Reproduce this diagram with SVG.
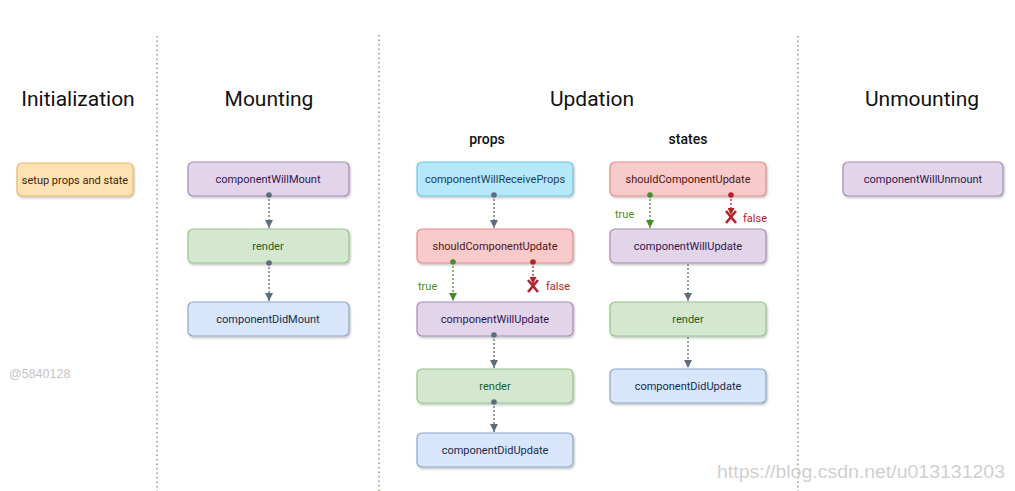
<svg xmlns="http://www.w3.org/2000/svg" width="1015" height="491" viewBox="0 0 1015 491">
<style>
.title{font-family:Roboto,"Liberation Sans",sans-serif;font-size:21px;fill:#111;text-anchor:middle}
.sub{font-family:Roboto,"Liberation Sans",sans-serif;font-size:14px;font-weight:500;fill:#111;text-anchor:middle}
.lbl{font-family:Roboto,"Liberation Sans",sans-serif;font-size:11px;text-anchor:middle;dominant-baseline:central}
.box{stroke-width:1.2;filter:url(#sh)}
.orange rect{fill:#fde2b3;stroke:#e8b865}.orange text{fill:#3a2608}
.purple rect{fill:#e2d5e9;stroke:#a68bb5}.purple text{fill:#2f1550}
.green rect{fill:#d3e8cf;stroke:#96c28b}.green text{fill:#225e25}
.blue rect{fill:#d7e6fb;stroke:#8ea6c9}.blue text{fill:#172b4d}
.cyan rect{fill:#b5e8f8;stroke:#6fc5e2}.cyan text{fill:#1e3d60}
.red rect{fill:#f8caca;stroke:#df8e8e}.red text{fill:#501414}
.div{stroke:#8c9c72;stroke-width:1.5;stroke-dasharray:1.5 3}
.c{fill:none;stroke-width:1.3;stroke-dasharray:2 2}
.gray{stroke:#5f6b7e}.gr{stroke:#4a8c2a}.rd{stroke:#b2222a}
.ct{font-family:Roboto,"Liberation Sans",sans-serif;font-size:11px}
</style>
<defs>
<filter id="sh" x="-10%" y="-20%" width="120%" height="150%">
<feDropShadow dx="1" dy="1.5" stdDeviation="1" flood-color="#000" flood-opacity="0.25"/>
</filter>
<marker id="ag" viewBox="0 0 10 10" refX="10" refY="5" markerWidth="8" markerHeight="8" orient="auto" markerUnits="userSpaceOnUse"><path d="M0,0 L10,5 L0,10 Z" fill="#5f6b7e"/></marker>
<marker id="agr" viewBox="0 0 10 10" refX="10" refY="5" markerWidth="8" markerHeight="8" orient="auto" markerUnits="userSpaceOnUse"><path d="M0,0 L10,5 L0,10 Z" fill="#4a8c2a"/></marker>
<marker id="ard" viewBox="0 0 10 10" refX="10" refY="5" markerWidth="7" markerHeight="7" orient="auto" markerUnits="userSpaceOnUse"><path d="M0,0 L10,5 L0,10 Z" fill="#b2222a"/></marker>
</defs>
<rect width="1015" height="491" fill="#fff"/>

<g id="dividers">
<line class="div" x1="157" y1="36" x2="157" y2="491"/>
<line class="div" x1="379" y1="35" x2="379" y2="491"/>
<line class="div" x1="798" y1="36" x2="798" y2="491"/>
</g>

<g id="titles">
<text class="title" x="78" y="106">Initialization</text>
<text class="title" x="269" y="106">Mounting</text>
<text class="title" x="592" y="106">Updation</text>
<text class="title" x="922" y="106">Unmounting</text>
<text class="sub" x="487" y="144">props</text>
<text class="sub" x="688" y="144">states</text>
</g>

<g id="setup" class="orange"><rect class="box" x="17" y="163" width="116" height="33" rx="5"/><text class="lbl" x="75" y="180">setup props and state</text></g>

<g id="willMount" class="purple"><rect class="box" x="188" y="162" width="161" height="34" rx="5"/><text class="lbl" x="268" y="179">componentWillMount</text></g>
<g id="render1" class="green"><rect class="box" x="188" y="229" width="161" height="34" rx="5"/><text class="lbl" x="268" y="246">render</text></g>
<g id="didMount" class="blue"><rect class="box" x="188" y="302" width="161" height="34" rx="5"/><text class="lbl" x="268" y="319">componentDidMount</text></g>

<g id="willReceiveProps" class="cyan"><rect class="box" x="417" y="162" width="156" height="34" rx="5"/><text class="lbl" x="495" y="179">componentWillReceiveProps</text></g>
<g id="shouldUpdate1" class="red"><rect class="box" x="417" y="229" width="156" height="34" rx="5"/><text class="lbl" x="495" y="246">shouldComponentUpdate</text></g>
<g id="willUpdate1" class="purple"><rect class="box" x="417" y="302" width="156" height="34" rx="5"/><text class="lbl" x="495" y="319">componentWillUpdate</text></g>
<g id="render2" class="green"><rect class="box" x="417" y="369" width="156" height="34" rx="5"/><text class="lbl" x="495" y="386">render</text></g>
<g id="didUpdate1" class="blue"><rect class="box" x="417" y="433" width="156" height="34" rx="5"/><text class="lbl" x="495" y="450">componentDidUpdate</text></g>

<g id="shouldUpdate2" class="red"><rect class="box" x="610" y="162" width="156" height="34" rx="5"/><text class="lbl" x="688" y="179">shouldComponentUpdate</text></g>
<g id="willUpdate2" class="purple"><rect class="box" x="610" y="229" width="156" height="34" rx="5"/><text class="lbl" x="688" y="246">componentWillUpdate</text></g>
<g id="render3" class="green"><rect class="box" x="610" y="302" width="156" height="34" rx="5"/><text class="lbl" x="688" y="319">render</text></g>
<g id="didUpdate2" class="blue"><rect class="box" x="610" y="369" width="156" height="34" rx="5"/><text class="lbl" x="688" y="386">componentDidUpdate</text></g>

<g id="willUnmount" class="purple"><rect class="box" x="843" y="162" width="160" height="34" rx="5"/><text class="lbl" x="923" y="179">componentWillUnmount</text></g>

<g id="connectors">
<!-- mounting -->
<line class="c gray" x1="269" y1="195" x2="269" y2="228" marker-end="url(#ag)"/>
<circle cx="269" cy="195" r="2.8" fill="#5f6b7e"/>
<line class="c gray" x1="269" y1="263" x2="269" y2="301" marker-end="url(#ag)"/>
<circle cx="269" cy="263" r="2.8" fill="#5f6b7e"/>
<!-- props -->
<line class="c gray" x1="494" y1="195" x2="494" y2="228" marker-end="url(#ag)"/>
<circle cx="494" cy="195" r="2.8" fill="#5f6b7e"/>
<line class="c gr" x1="453" y1="262" x2="453" y2="301" marker-end="url(#agr)"/>
<circle cx="453" cy="262" r="2.8" fill="#4a8c2a"/>
<line class="c rd" x1="533" y1="262" x2="533" y2="284" marker-end="url(#ard)"/>
<circle cx="533" cy="262" r="2.8" fill="#b2222a"/>
<path d="M528,280 L538,292 M538,280 L528,292" stroke="#b2222a" stroke-width="2.6" fill="none"/>
<text class="ct" x="418" y="290" fill="#4a8c2a">true</text>
<text class="ct" x="546" y="290" fill="#b2222a">false</text>
<line class="c gray" x1="494" y1="335" x2="494" y2="368" marker-end="url(#ag)"/>
<circle cx="494" cy="335" r="2.8" fill="#5f6b7e"/>
<line class="c gray" x1="494" y1="402" x2="494" y2="432" marker-end="url(#ag)"/>
<circle cx="494" cy="402" r="2.8" fill="#5f6b7e"/>
<!-- states -->
<line class="c gr" x1="650" y1="195" x2="650" y2="228" marker-end="url(#agr)"/>
<circle cx="650" cy="195" r="2.8" fill="#4a8c2a"/>
<line class="c rd" x1="731" y1="195" x2="731" y2="215" marker-end="url(#ard)"/>
<circle cx="731" cy="195" r="2.8" fill="#b2222a"/>
<path d="M726,211 L736,223 M736,211 L726,223" stroke="#b2222a" stroke-width="2.6" fill="none"/>
<text class="ct" x="615" y="218" fill="#4a8c2a">true</text>
<text class="ct" x="743" y="222" fill="#b2222a">false</text>
<line class="c gray" x1="688" y1="264" x2="688" y2="301" marker-end="url(#ag)"/>
<line class="c gray" x1="688" y1="337" x2="688" y2="368" marker-end="url(#ag)"/>
</g>

<g id="watermarks">
<text x="9" y="378" font-family="'Liberation Sans',Arial,sans-serif" font-size="12.5" fill="#c4c4c4">@5840128</text>
<text x="717" y="478" font-family="'Liberation Sans',Arial,sans-serif" font-size="18" textLength="288" lengthAdjust="spacingAndGlyphs" fill="#cfcfcf">https://blog.csdn.net/u013131203</text>
</g>
</svg>
